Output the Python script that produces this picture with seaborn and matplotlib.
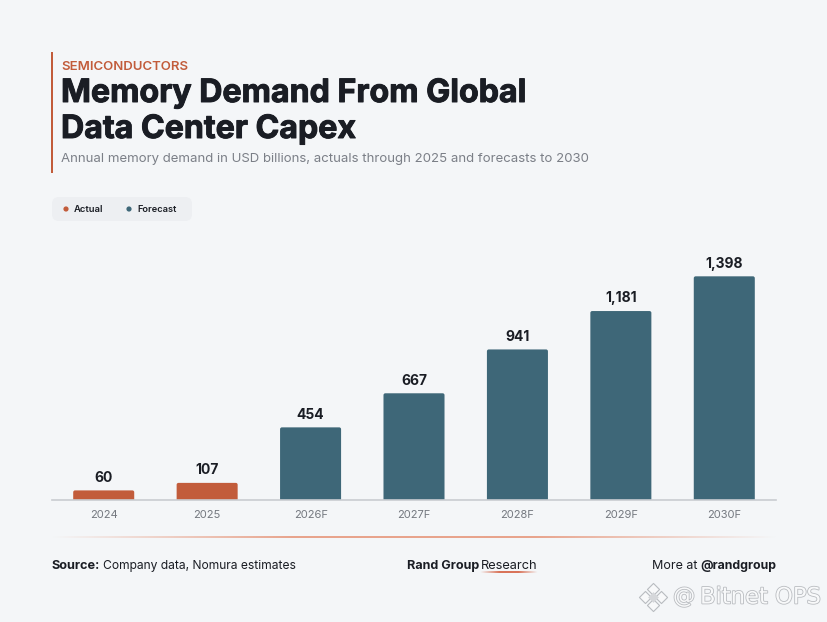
import numpy as np
import pandas as pd
import seaborn as sns
import matplotlib
matplotlib.use("Agg")
import matplotlib.pyplot as plt
from matplotlib.colors import LinearSegmentedColormap
from matplotlib.patches import FancyBboxPatch, Rectangle
import matplotlib.patheffects as pe

# Data
years = ["2024", "2025", "2026F", "2027F", "2028F", "2029F", "2030F"]
demand = [60, 107, 454, 667, 941, 1181, 1398]
kinds = ["Actual", "Actual", "Forecast", "Forecast", "Forecast", "Forecast", "Forecast"]
value_labels = ["60", "107", "454", "667", "941", "1,181", "1,398"]

BG = "#f4f6f8"
ORANGE = "#c25c3b"
TEAL = "#3e6778"
DARK = "#1a1d24"
GREY = "#7b7f87"

sns.set_theme(style="white")
plt.rcParams["font.family"] = ["Inter", "DejaVu Sans"]

W, H = 828, 622
fig = plt.figure(figsize=(W / 100, H / 100), dpi=100, facecolor=BG)

# Overlay in pixel coords for the header / footer
bg = fig.add_axes([0, 0, 1, 1])
bg.set_xlim(0, W)
bg.set_ylim(H, 0)
bg.axis("off")

# Chart axes: x 52-776, baseline at y=500
top = 240
ax = fig.add_axes([52 / W, 1 - 500 / H, 724 / W, (500 - top) / H])
ax.patch.set_alpha(0)

df = pd.DataFrame({"year": years, "demand": demand, "kind": kinds})
sns.barplot(data=df, x="year", y="demand", hue="kind", dodge=False, width=0.59, saturation=1,
            palette={"Actual": ORANGE, "Forecast": TEAL}, legend=False, ax=ax)
ax.set_xlim(-0.5, 6.5)
ymax = (500 - top) / 0.16
ax.set_ylim(0, ymax)

# swap bars for slightly rounded ones
aspect = (ymax / (500 - top)) / (7 / 724)
for bar in list(ax.patches):
    x, w, h = bar.get_x(), bar.get_width(), bar.get_height()
    if h <= 0:
        bar.remove()
        continue
    ax.add_patch(FancyBboxPatch((x, -30), w, h + 30,
                                boxstyle="round,pad=0,rounding_size=0.018",
                                mutation_aspect=aspect, fc=bar.get_facecolor(), ec="none"))
    bar.remove()

for i, (v, lab) in enumerate(zip(demand, value_labels)):
    ax.annotate(lab, (i, v), xytext=(0, 4), textcoords="offset points", ha="center", va="bottom",
                fontsize=10, fontweight="bold", color=DARK)

sns.despine(ax=ax, left=True)
ax.spines["bottom"].set_color("#c9ccd1")
ax.spines["bottom"].set_linewidth(1.2)
ax.set_yticks([])
ax.set_xlabel("")
ax.set_ylabel("")
ax.tick_params(axis="x", length=0, pad=7, labelsize=8, labelcolor="#74787f")

# Header
bg.add_patch(Rectangle((51.5, 52), 2, 121, fc=ORANGE, ec="none"))
bg.text(61, 67.5, "SEMICONDUCTORS", fontsize=9.5, fontweight="semibold", color=ORANGE, va="center")
heavy = [pe.withStroke(linewidth=0.7, foreground=DARK)]
bg.text(61, 93.5, "Memory Demand From Global", fontsize=23.15, fontweight="bold", color=DARK,
        va="center", path_effects=heavy)
bg.text(61, 129.5, "Data Center Capex", fontsize=23.15, fontweight="bold", color=DARK,
        va="center", path_effects=heavy)
bg.text(61, 159, "Annual memory demand in USD billions, actuals through 2025 and forecasts to 2030",
        fontsize=9.5, color=GREY, va="center")

# Legend pill
bg.add_patch(FancyBboxPatch((52, 197), 140, 24, boxstyle="round,pad=0,rounding_size=7",
                            fc="#edeff2", ec="none"))
bg.scatter([66, 129], [209, 209], s=14, c=[ORANGE, TEAL], linewidths=0)
bg.text(73.5, 209.5, "Actual", fontsize=6.8, fontweight="semibold", color=DARK, va="center")
bg.text(137, 209.5, "Forecast", fontsize=6.7, fontweight="semibold", color=DARK, va="center")

# Gradient rules
fade = LinearSegmentedColormap.from_list("fade", [BG, "#e8a48d", "#e8a48d", BG])
bg.imshow(np.linspace(0, 1, 256)[None, :], extent=(52, 776, 538.5, 537.2), cmap=fade, aspect="auto")
under = LinearSegmentedColormap.from_list("under", [BG, "#d9745a", "#d9745a", BG])
bg.imshow(np.linspace(0, 1, 64)[None, :], extent=(480, 538, 573.5, 572.2), cmap=under, aspect="auto")
bg.set_xlim(0, W)
bg.set_ylim(H, 0)

# Footer, all on one baseline
fy = 569
bg.text(52, fy, "Source:", fontsize=9.2, fontweight="bold", color=DARK, va="baseline")
bg.text(103, fy, "Company data, Nomura estimates", fontsize=8.7, color=DARK, va="baseline")
bg.text(407, fy, "Rand Group", fontsize=9.1, fontweight="bold", color=DARK, va="baseline")
bg.text(481, fy, "Research", fontsize=9.2, color=DARK, va="baseline")
bg.text(652, fy, "More at", fontsize=9, color=DARK, va="baseline")
bg.text(776, fy, "@randgroup", fontsize=8.9, fontweight="bold", color=DARK, va="baseline", ha="right")

# Watermark
wm = dict(color="#f8f9fa", path_effects=[pe.withStroke(linewidth=1.2, foreground="#b9bcc0")])
bg.text(673, 597, "@", fontsize=16, va="center", ha="left", family=["DejaVu Sans"], **wm)
bg.text(700, 597, "Bitnet OPS", fontsize=16.3, va="center", ha="left", family=["DejaVu Sans"], **wm)
bg.scatter([653, 653, 645, 661], [589, 605, 597, 597], s=38, marker="D", c="#f8f9fa",
           edgecolors="#b9bcc0", linewidths=0.8)
bg.scatter([653], [597], s=30, marker="D", c="#d5d7da", linewidths=0)

fig.savefig("out.png", dpi=100, facecolor=BG)
